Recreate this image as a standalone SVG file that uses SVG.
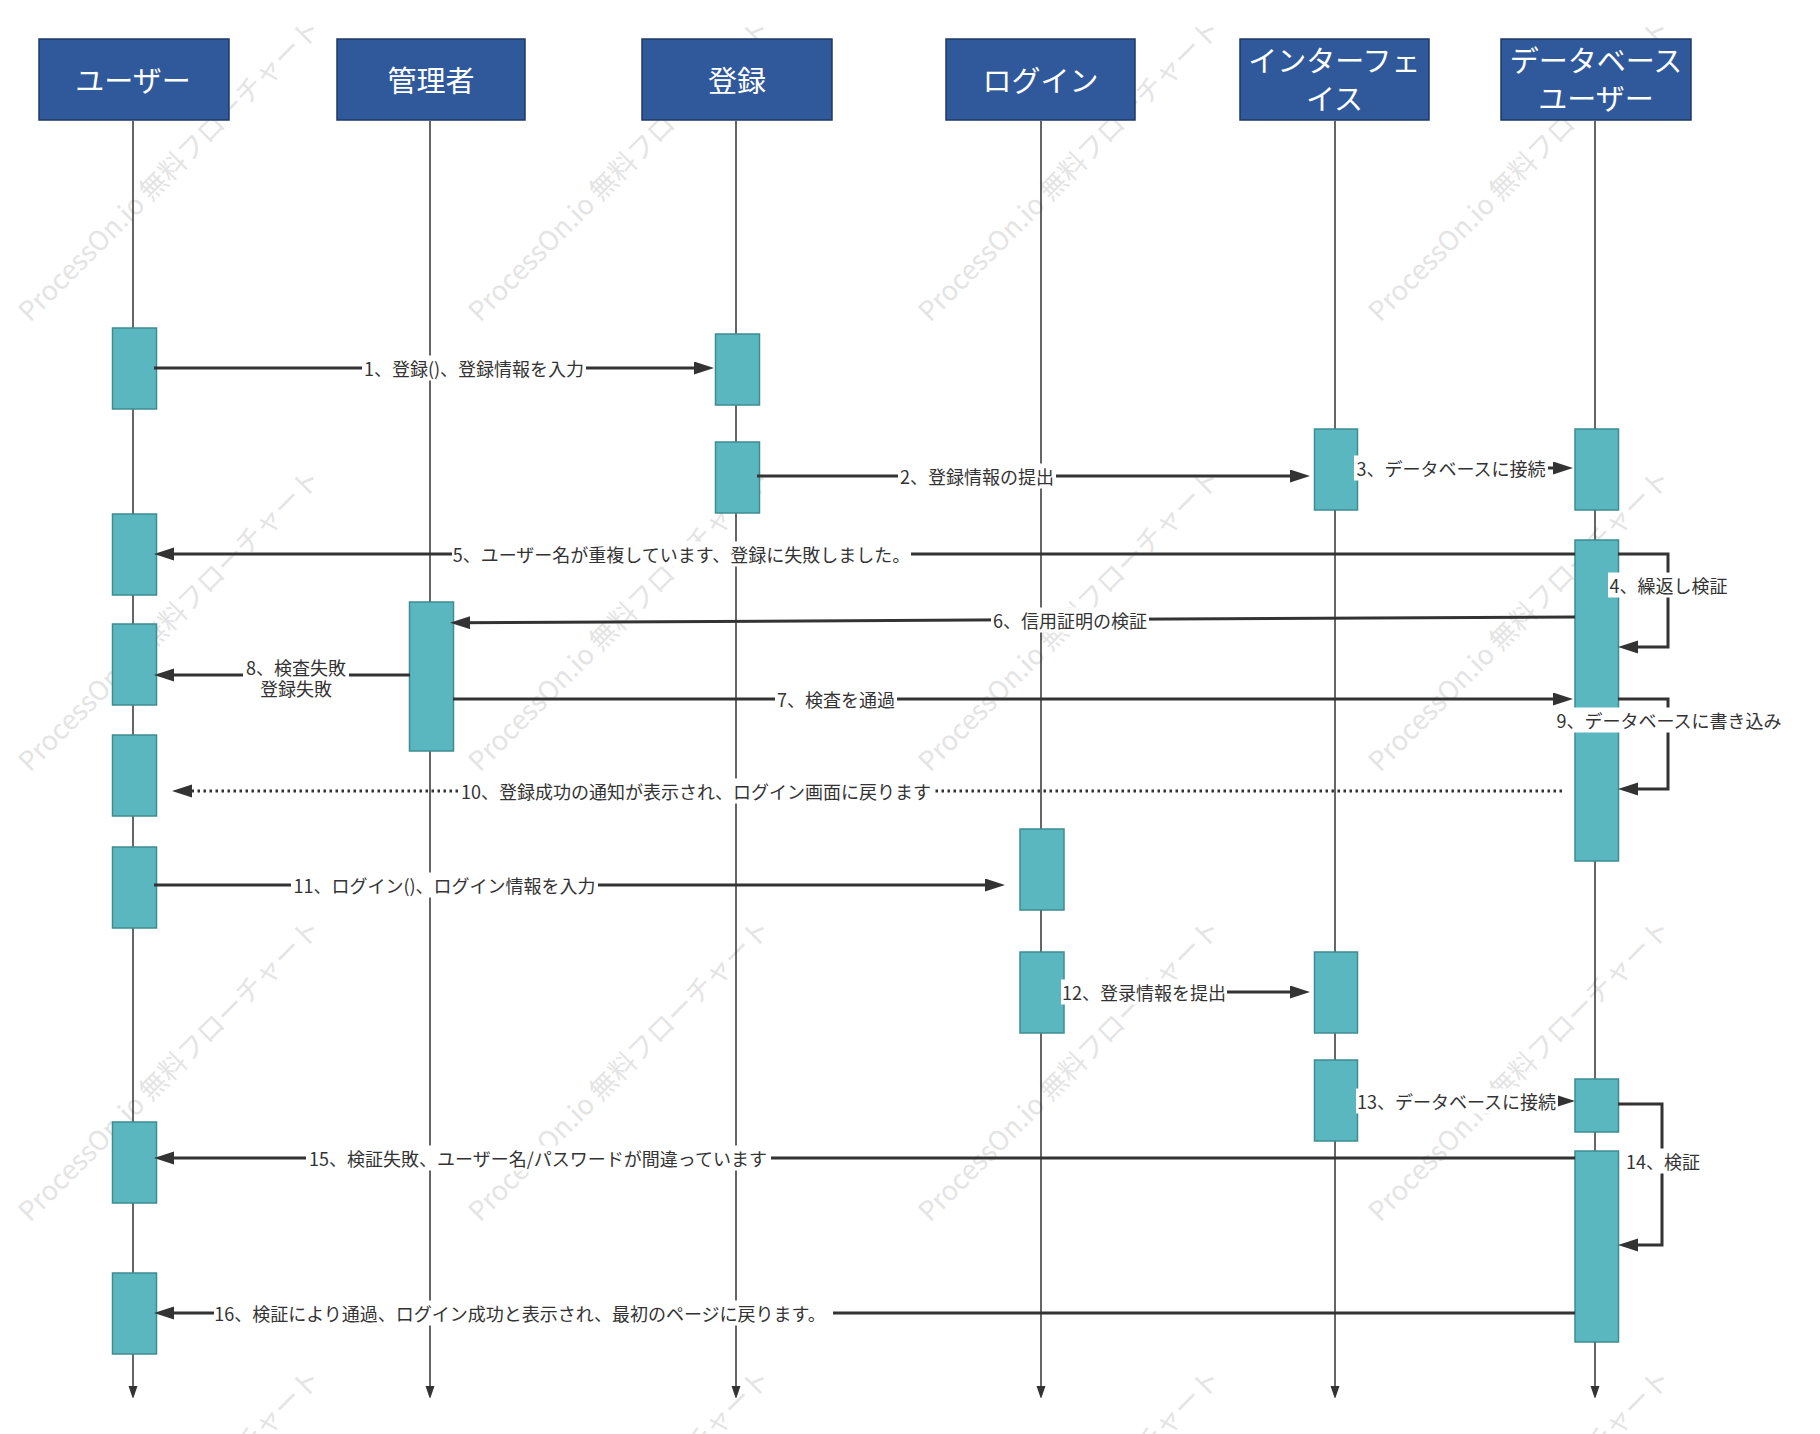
<svg xmlns="http://www.w3.org/2000/svg" width="1820" height="1434" viewBox="0 0 1820 1434">
<style>
.wm{font-family:"Noto Sans CJK JP","Noto Sans",sans-serif;font-size:27px;fill:#e4e4e4}
.hd{fill:#30599B;stroke:#1E3A66;stroke-width:1.5}
.ht{font-family:"Noto Sans CJK JP","Noto Sans",sans-serif;font-size:29px;fill:#ffffff;text-anchor:middle;dominant-baseline:central}
.ll{stroke:#333333;stroke-width:1.5;fill:none}
.act{fill:#5BB7BF;stroke:#3D8C92;stroke-width:1.5}
.msg{stroke:#333333;stroke-width:3;fill:none}
.dot{stroke:#333333;stroke-width:3;fill:none;stroke-dasharray:2.5 3.5}
.lb{fill:#ffffff}
.lt{font-family:"Noto Sans CJK JP","Noto Sans",sans-serif;font-size:18px;fill:#333333;text-anchor:middle;dominant-baseline:central}
</style>
<defs>
<marker id="ah" markerUnits="userSpaceOnUse" markerWidth="22" markerHeight="15" refX="10" refY="6.5" orient="auto">
<path d="M0,0 L20,6.5 L0,13 Z" fill="#333333"/>
</marker>
<marker id="lh" markerUnits="userSpaceOnUse" markerWidth="12" markerHeight="16" refX="6" refY="4.5" orient="auto">
<path d="M0,0 L13,4.5 L0,9 Z" fill="#333333"/>
</marker>
</defs>
<rect x="0" y="0" width="1820" height="1434" fill="#ffffff"/>
<g id="watermark">
<text class="wm" transform="translate(30,323) rotate(-45)">ProcessOn.io 無料フローチャート</text>
<text class="wm" transform="translate(480,323) rotate(-45)">ProcessOn.io 無料フローチャート</text>
<text class="wm" transform="translate(930,323) rotate(-45)">ProcessOn.io 無料フローチャート</text>
<text class="wm" transform="translate(1380,323) rotate(-45)">ProcessOn.io 無料フローチャート</text>
<text class="wm" transform="translate(30,773) rotate(-45)">ProcessOn.io 無料フローチャート</text>
<text class="wm" transform="translate(480,773) rotate(-45)">ProcessOn.io 無料フローチャート</text>
<text class="wm" transform="translate(930,773) rotate(-45)">ProcessOn.io 無料フローチャート</text>
<text class="wm" transform="translate(1380,773) rotate(-45)">ProcessOn.io 無料フローチャート</text>
<text class="wm" transform="translate(30,1223) rotate(-45)">ProcessOn.io 無料フローチャート</text>
<text class="wm" transform="translate(480,1223) rotate(-45)">ProcessOn.io 無料フローチャート</text>
<text class="wm" transform="translate(930,1223) rotate(-45)">ProcessOn.io 無料フローチャート</text>
<text class="wm" transform="translate(1380,1223) rotate(-45)">ProcessOn.io 無料フローチャート</text>
<text class="wm" transform="translate(30,1673) rotate(-45)">ProcessOn.io 無料フローチャート</text>
<text class="wm" transform="translate(480,1673) rotate(-45)">ProcessOn.io 無料フローチャート</text>
<text class="wm" transform="translate(930,1673) rotate(-45)">ProcessOn.io 無料フローチャート</text>
<text class="wm" transform="translate(1380,1673) rotate(-45)">ProcessOn.io 無料フローチャート</text>
</g>
<g id="lifelines">
<line class="ll" x1="133" y1="121" x2="133" y2="1392" marker-end="url(#lh)"/>
<line class="ll" x1="430" y1="121" x2="430" y2="1392" marker-end="url(#lh)"/>
<line class="ll" x1="736" y1="121" x2="736" y2="1392" marker-end="url(#lh)"/>
<line class="ll" x1="1041" y1="121" x2="1041" y2="1392" marker-end="url(#lh)"/>
<line class="ll" x1="1335" y1="121" x2="1335" y2="1392" marker-end="url(#lh)"/>
<line class="ll" x1="1595" y1="121" x2="1595" y2="1392" marker-end="url(#lh)"/>
</g>
<g id="node-user">
<rect class="hd" x="39" y="39" width="190" height="81"/>
<text class="ht" x="133" y="79">ユーザー</text>
</g>
<g id="node-admin">
<rect class="hd" x="337" y="39" width="188" height="81"/>
<text class="ht" x="431" y="79">管理者</text>
</g>
<g id="node-register">
<rect class="hd" x="642" y="39" width="190" height="81"/>
<text class="ht" x="737" y="79">登録</text>
</g>
<g id="node-login">
<rect class="hd" x="946" y="39" width="189" height="81"/>
<text class="ht" x="1040.5" y="79">ログイン</text>
</g>
<g id="node-interface">
<rect class="hd" x="1240" y="39" width="189" height="81"/>
<text class="ht" x="1334.5" y="59">インターフェ</text>
<text class="ht" x="1334.5" y="97">イス</text>
</g>
<g id="node-dbuser">
<rect class="hd" x="1501" y="39" width="190" height="81"/>
<text class="ht" x="1596" y="59">データベース</text>
<text class="ht" x="1596" y="97">ユーザー</text>
</g>
<g id="activations">
<rect class="act" x="112.5" y="328" width="44" height="81"/>
<rect class="act" x="112.5" y="514" width="44" height="81"/>
<rect class="act" x="112.5" y="624" width="44" height="81"/>
<rect class="act" x="112.5" y="735" width="44" height="81"/>
<rect class="act" x="112.5" y="847" width="44" height="81"/>
<rect class="act" x="112.5" y="1122" width="44" height="81"/>
<rect class="act" x="112.5" y="1273" width="44" height="81"/>
<rect class="act" x="409.5" y="602" width="44" height="149"/>
<rect class="act" x="715.5" y="334" width="44" height="71"/>
<rect class="act" x="715.5" y="442" width="44" height="71"/>
<rect class="act" x="1020" y="829" width="44" height="81"/>
<rect class="act" x="1020" y="952" width="44" height="81"/>
<rect class="act" x="1314.5" y="429" width="43" height="81"/>
<rect class="act" x="1314.5" y="952" width="43" height="81"/>
<rect class="act" x="1314.5" y="1060" width="43" height="81"/>
<rect class="act" x="1575" y="429" width="43.5" height="81"/>
<rect class="act" x="1575" y="540" width="43.5" height="321"/>
<rect class="act" x="1575" y="1079" width="43.5" height="53"/>
<rect class="act" x="1575" y="1151" width="43.5" height="191"/>
</g>
<g id="connectors">
<path class="msg" d="M154,368 H704" marker-end="url(#ah)"/>
<path class="msg" d="M757,476 H1300" marker-end="url(#ah)"/>
<path class="msg" d="M1357,468 H1563" marker-end="url(#ah)"/>
<path class="msg" d="M1618,554 H1668 V647 H1628" marker-end="url(#ah)"/>
<path class="msg" d="M1575,554 H164" marker-end="url(#ah)"/>
<path class="msg" d="M1575,617 L460,622.7" marker-end="url(#ah)"/>
<path class="msg" d="M453,699 H1563" marker-end="url(#ah)"/>
<path class="msg" d="M410,675 H164" marker-end="url(#ah)"/>
<path class="msg" d="M1618,699 H1668 V789 H1628" marker-end="url(#ah)"/>
<path class="dot" d="M1562,791 H182" marker-end="url(#ah)"/>
<path class="msg" d="M154,885 H995" marker-end="url(#ah)"/>
<path class="msg" d="M1064,992 H1300" marker-end="url(#ah)"/>
<path class="msg" d="M1357,1101 H1565" marker-end="url(#ah)"/>
<path class="msg" d="M1618,1104 H1662 V1245 H1628" marker-end="url(#ah)"/>
<path class="msg" d="M1575,1158 H164" marker-end="url(#ah)"/>
<path class="msg" d="M1575,1313 H164" marker-end="url(#ah)"/>
</g>
<g id="labels">
<rect class="lb" x="362" y="355.5" width="224" height="25"/>
<text class="lt" x="474" y="368">1、登録()、登録情報を入力</text>
<rect class="lb" x="898" y="463.5" width="158" height="25"/>
<text class="lt" x="977" y="476">2、登録情報の提出</text>
<rect class="lb" x="1354" y="455.5" width="194" height="25"/>
<text class="lt" x="1451" y="468">3、データベースに接続</text>
<rect class="lb" x="1608" y="572.5" width="121" height="25"/>
<text class="lt" x="1668.5" y="585">4、繰返し検証</text>
<rect class="lb" x="452" y="541.5" width="459" height="25"/>
<text class="lt" x="681.5" y="554">5、ユーザー名が重複しています、登録に失敗しました。</text>
<rect class="lb" x="991" y="607.5" width="158" height="25"/>
<text class="lt" x="1070" y="620">6、信用証明の検証</text>
<rect class="lb" x="775" y="686.5" width="122" height="25"/>
<text class="lt" x="836" y="699">7、検査を通過</text>
<rect class="lb" x="243" y="654" width="106" height="46"/>
<text class="lt" x="296" y="666.5"><tspan x="296" y="666.5">8、検査失敗</tspan><tspan x="296" y="688">登録失敗</tspan></text>
<rect class="lb" x="1554" y="707.5" width="230" height="25"/>
<text class="lt" x="1669" y="720">9、データベースに書き込み</text>
<rect class="lb" x="459" y="778.5" width="474" height="25"/>
<text class="lt" x="696" y="791">10、登録成功の通知が表示され、ログイン画面に戻ります</text>
<rect class="lb" x="291" y="872.5" width="307" height="25"/>
<text class="lt" x="444.5" y="885">11、ログイン()、ログイン情報を入力</text>
<rect class="lb" x="1061" y="979.5" width="166" height="25"/>
<text class="lt" x="1144" y="992">12、登录情報を提出</text>
<rect class="lb" x="1356" y="1088.5" width="202" height="25"/>
<text class="lt" x="1456.5" y="1101">13、データベースに接続</text>
<rect class="lb" x="1624" y="1148.5" width="78" height="25"/>
<text class="lt" x="1663" y="1161">14、検証</text>
<rect class="lb" x="306" y="1145.5" width="465" height="25"/>
<text class="lt" x="538" y="1158">15、検証失敗、ユーザー名/パスワードが間違っています</text>
<rect class="lb" x="214" y="1300.5" width="619" height="25"/>
<text class="lt" x="520" y="1313">16、検証により通過、ログイン成功と表示され、最初のページに戻ります。</text>
</g>
</svg>
